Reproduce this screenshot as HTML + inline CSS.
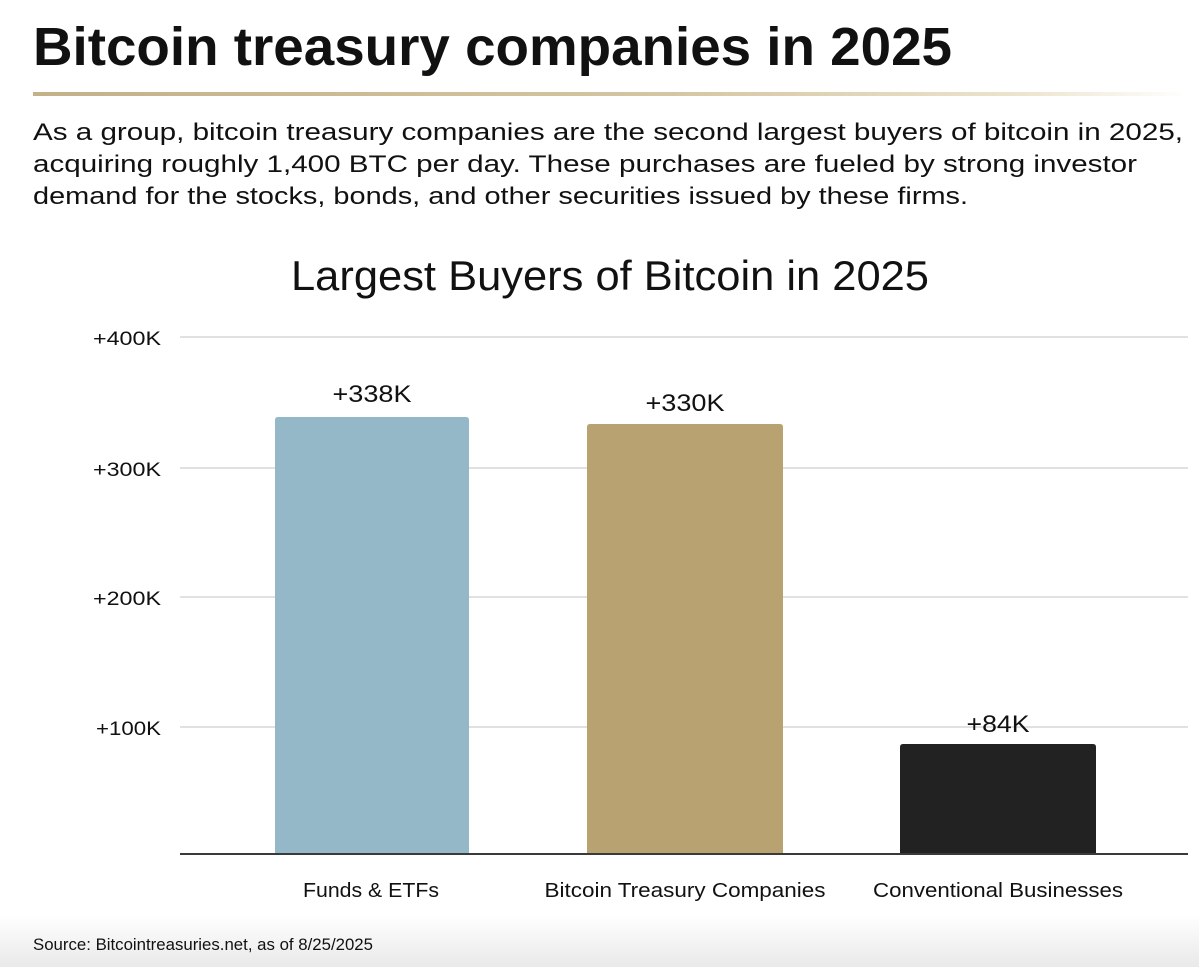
<!DOCTYPE html>
<html><head><meta charset="utf-8"><style>
html,body{margin:0;padding:0;background:#fff;}
svg{display:block;}
text{font-family:"Liberation Sans",sans-serif;fill:#111;}
</style></head><body>
<svg width="1199" height="967" viewBox="0 0 1199 967" xmlns="http://www.w3.org/2000/svg">
<defs>
<linearGradient id="gold" x1="0" y1="0" x2="1" y2="0">
<stop offset="0" stop-color="#c3b18a"/>
<stop offset="0.55" stop-color="#d4c6a2"/>
<stop offset="0.85" stop-color="#ece3cd"/>
<stop offset="1" stop-color="#ffffff"/>
</linearGradient>
<linearGradient id="bot" x1="0" y1="0" x2="0" y2="1">
<stop offset="0" stop-color="#ffffff"/>
<stop offset="1" stop-color="#e9e9e9"/>
</linearGradient>
</defs>
<rect x="0" y="0" width="1199" height="967" fill="#fff"/>
<rect x="0" y="915" width="1199" height="52" fill="url(#bot)"/>

<text x="33" y="65" font-size="54" font-weight="bold" textLength="919" lengthAdjust="spacingAndGlyphs">Bitcoin treasury companies in 2025</text>
<rect x="33" y="92" width="1156" height="4" fill="url(#gold)"/>

<text x="33" y="140" font-size="24" textLength="1150" lengthAdjust="spacingAndGlyphs">As a group, bitcoin treasury companies are the second largest buyers of bitcoin in 2025,</text>
<text x="33" y="172" font-size="24" textLength="1104" lengthAdjust="spacingAndGlyphs">acquiring roughly 1,400 BTC per day. These purchases are fueled by strong investor</text>
<text x="33" y="204" font-size="24" textLength="935" lengthAdjust="spacingAndGlyphs">demand for the stocks, bonds, and other securities issued by these firms.</text>

<text x="291" y="290" font-size="42" textLength="638" lengthAdjust="spacingAndGlyphs">Largest Buyers of Bitcoin in 2025</text>

<g stroke="#cfcfcf" stroke-width="1.3">
<line x1="180" y1="337" x2="1188" y2="337"/>
<line x1="180" y1="468" x2="1188" y2="468"/>
<line x1="180" y1="597" x2="1188" y2="597"/>
<line x1="180" y1="727" x2="1188" y2="727"/>
</g>
<g font-size="19" text-anchor="end">
<text x="161" y="345" textLength="68" lengthAdjust="spacingAndGlyphs">+400K</text>
<text x="161" y="476" textLength="68" lengthAdjust="spacingAndGlyphs">+300K</text>
<text x="161" y="605" textLength="68" lengthAdjust="spacingAndGlyphs">+200K</text>
<text x="161" y="735" textLength="65" lengthAdjust="spacingAndGlyphs">+100K</text>
</g>

<path d="M275 854 V420 Q275 417 278 417 H466 Q469 417 469 420 V854 Z" fill="#95b8c8"/>
<path d="M587 854 V427 Q587 424 590 424 H780 Q783 424 783 427 V854 Z" fill="#b9a272"/>
<path d="M900 854 V747 Q900 744 903 744 H1093 Q1096 744 1096 747 V854 Z" fill="#222222"/>

<line x1="180" y1="854" x2="1188" y2="854" stroke="#3a3a3a" stroke-width="2"/>

<g font-size="24" text-anchor="middle">
<text x="372" y="402" textLength="79" lengthAdjust="spacingAndGlyphs">+338K</text>
<text x="685" y="411" textLength="79" lengthAdjust="spacingAndGlyphs">+330K</text>
<text x="998" y="732" textLength="63" lengthAdjust="spacingAndGlyphs">+84K</text>
</g>

<g font-size="20" text-anchor="middle">
<text x="371" y="897" textLength="136" lengthAdjust="spacingAndGlyphs">Funds &amp; ETFs</text>
<text x="685" y="897" textLength="281" lengthAdjust="spacingAndGlyphs">Bitcoin Treasury Companies</text>
<text x="998" y="897" textLength="250" lengthAdjust="spacingAndGlyphs">Conventional Businesses</text>
</g>

<text x="33" y="950" font-size="17" textLength="340" lengthAdjust="spacingAndGlyphs">Source: Bitcointreasuries.net, as of 8/25/2025</text>
</svg>
</body></html>
